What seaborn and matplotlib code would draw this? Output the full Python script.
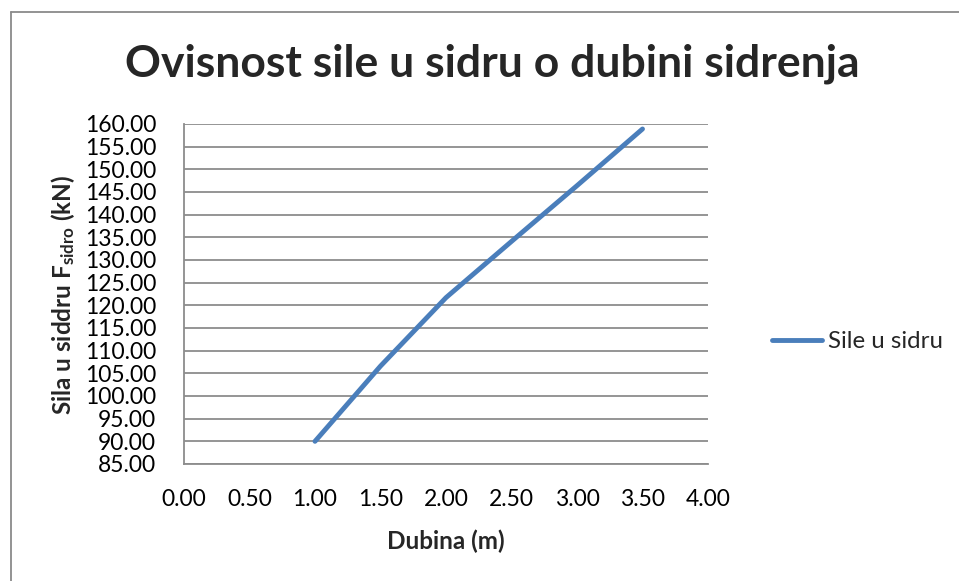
import matplotlib
matplotlib.use("Agg")
import matplotlib.pyplot as plt
from matplotlib.lines import Line2D
import numpy as np
import pandas as pd
import seaborn as sns

# Anchor force versus anchoring depth
dubina = [1.0, 1.5, 2.0, 2.5, 3.0, 3.5]          # m
sila = [90.0, 106.6, 121.7, 134.1, 146.4, 158.9]  # kN
serija = "Sile u sidru"

x_ticks = [0.0, 0.5, 1.0, 1.5, 2.0, 2.5, 3.0, 3.5, 4.0]
y_ticks = list(range(85, 161, 5))

sns.set_theme(style="white")
plt.rcParams["font.family"] = ["Lato", "DejaVu Sans"]
plt.rcParams["mathtext.fontset"] = "custom"
plt.rcParams["mathtext.rm"] = "Lato:bold"
plt.rcParams["mathtext.bf"] = "Lato:bold"
plt.rcParams["mathtext.it"] = "Lato:bold"

df = pd.DataFrame({"Dubina": dubina, "Sila": sila, "Serija": serija})

W, H = 959, 581
fig = plt.figure(figsize=(W / 100, H / 100), dpi=100)
ax = fig.add_axes([184 / W, 1 - 464 / H, (708 - 184) / W, (464 - 124) / H])

blue = "#4a7ebb"
grid_col = "#8c8c8c"

sns.lineplot(data=df, x="Dubina", y="Sila", ax=ax, color=blue, linewidth=3.5,
             legend=False, solid_capstyle="round", solid_joinstyle="round")

ax.set_xlim(0, 4)
ax.set_ylim(85, 160)
ax.set_xticks(x_ticks)
ax.set_yticks(y_ticks)
ax.set_xticklabels([f"{v:.2f}" for v in x_ticks])
ax.set_yticklabels([f"{v:.2f}" for v in y_ticks])
ax.yaxis.grid(True, color=grid_col, linewidth=1.3)
ax.xaxis.grid(False)
ax.set_axisbelow(True)
for side in ("top", "right"):
    ax.spines[side].set_visible(False)
for side in ("left", "bottom"):
    ax.spines[side].set_color(grid_col)
    ax.spines[side].set_linewidth(1.3)
ax.tick_params(axis="y", length=3, color=grid_col, width=1.3, pad=17,
               labelsize=16.5, labelcolor="black")
ax.tick_params(axis="x", length=0, pad=18, labelsize=16.5, labelcolor="black")
ax.set_xlabel("")
ax.set_ylabel("")

fig.text(492 / W, 1 - 64 / H, "Ovisnost sile u sidru o dubini sidrenja",
         ha="center", va="center", fontsize=32, fontweight="bold")
fig.text(446 / W, 1 - 541 / H, "Dubina (m)", ha="center", va="center",
         fontsize=17.5, fontweight="bold")
fig.text(63 / W, 1 - 295 / H, r"Sila u siddru F$_{\mathrm{sidro}}$ (kN)",
         ha="center", va="center", rotation=90, fontsize=17.5, fontweight="bold")

handle = Line2D([], [], color=blue, linewidth=3.5, solid_capstyle="round")
fig.legend([handle], [serija], loc="center left",
           bbox_to_anchor=(772 / W, 1 - 342 / H), frameon=False,
           fontsize=17.3, handlelength=2.1, handletextpad=0.25,
           borderaxespad=0, borderpad=0)

# Chart area border (top and left edges)
fig.add_artist(Line2D([11 / W, 1.0], [1 - 12 / H, 1 - 12 / H],
                      transform=fig.transFigure, color="#8a8a8a", linewidth=1.3))
fig.add_artist(Line2D([11 / W, 11 / W], [0.0, 1 - 12 / H],
                      transform=fig.transFigure, color="#8a8a8a", linewidth=1.3))

fig.savefig("out.png", dpi=100)
